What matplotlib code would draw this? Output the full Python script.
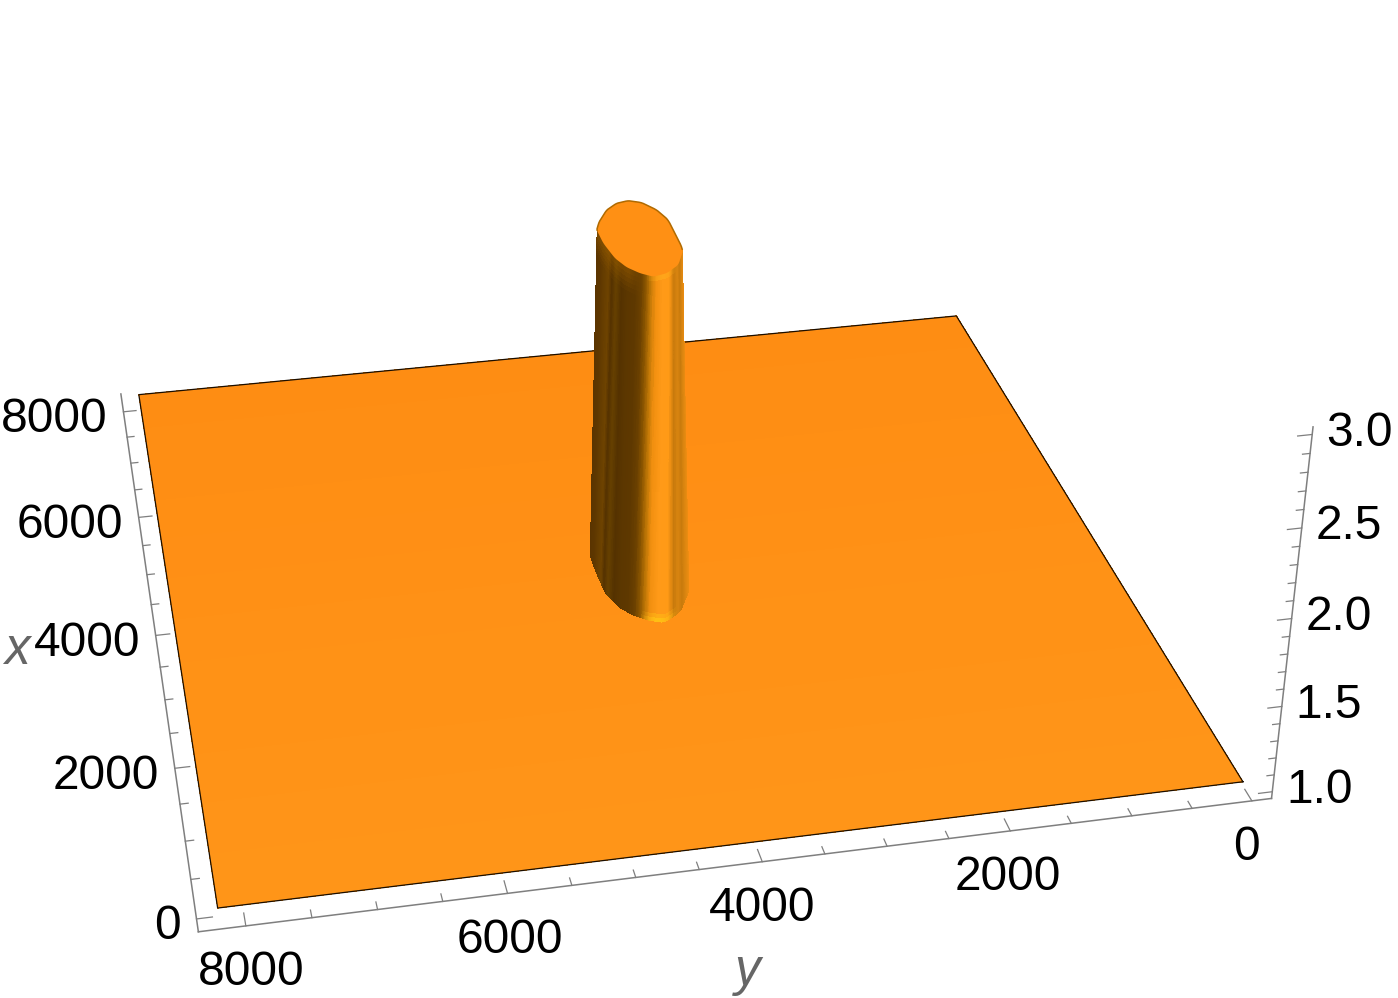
import numpy as np
import matplotlib
matplotlib.use('Agg')
import matplotlib.pyplot as plt
from matplotlib.colors import LinearSegmentedColormap, to_rgba
from mpl_toolkits.mplot3d import proj3d
from mpl_toolkits.mplot3d.art3d import Poly3DCollection

plt.rcParams['font.family'] = ['Liberation Sans', 'DejaVu Sans']

# flat floor of the surface
plane_x = [16, 8192]
plane_y = [16, 8192]
plane_z = 1.0
plateau_z = 3.0

# plateau rim, front part from left to right
top_x = [4308, 4051, 3760, 3580, 3452, 3370, 3408, 3536, 3797]
top_y = [4426, 4419, 4378, 4316, 4230, 4136, 4017, 3892, 3794]
# rest of the rim, going round the back
back_x = [4374, 4582, 4747, 4808, 4778, 4667, 4458]
back_y = [3799, 3855, 3951, 4055, 4162, 4270, 4375]
# foot of the column on the floor
foot_x = [4440, 4150, 3778, 3549, 3400, 3296, 3230, 3366, 3697]
foot_y = [4482, 4483, 4466, 4396, 4303, 4192, 4065, 3895, 3741]

# wall shading along the front of the rim (station number, colour)
wall_pos = [0, 0.75, 1.5, 1.8, 2.15, 2.6, 3.15, 3.65, 4.1, 4.45, 4.8, 5.15, 5.65, 6.15, 6.35, 6.55, 6.85, 7.15, 7.55, 8]
wall_colors = ['#5A3400', '#5E3700', '#6E4300', '#553200', '#664000', '#553200', '#5C3700', '#5E3800', '#6A4000',
               '#8A5500', '#BE7606', '#F29010', '#FF9A18', '#FF9A16', '#E88C12', '#C87A0C', '#D88410', '#C87A0C', '#DC8610', '#F08E12']
floor_colors = ['#FE8D13', '#FF9015', '#FF9518']

x_major = [0, 2000, 4000, 6000, 8000]
y_major = [0, 2000, 4000, 6000, 8000]
z_major = [1.0, 1.5, 2.0, 2.5, 3.0]
xy_minor = [500, 1000, 1500, 2500, 3000, 3500, 4500, 5000, 5500, 6500, 7000, 7500]
z_minor = [1.1, 1.2, 1.3, 1.4, 1.6, 1.7, 1.8, 1.9, 2.1, 2.2, 2.3, 2.4, 2.6, 2.7, 2.8, 2.9]

# box limits
bx0, bx1 = -159, 8360
by0, by1 = -165, 8357
bz0, bz1 = 0.96, 3.04

W, H = 1398, 998
A = 998.0  # axes side in pixels
F = 3378.0  # focal length of the fitted camera, pixels
D = 3.399  # eye distance in box sides
cx, cy = 640.2, 408.3  # where the box centre lands
lz = 0.399
SUB = 20  # samples per rim point when drawing
KERNEL = np.ones(9) / 9


def round_closed(vals):
    # closed rim: resample and round off the corners
    v = np.array(list(vals) + [vals[0]], float)
    t = np.linspace(0, len(vals), len(vals) * SUB + 1)
    u = np.interp(t, np.arange(len(v)), v)[:-1]
    n = len(KERNEL)
    return np.convolve(np.r_[u[-n:], u, u[:n]], KERNEL, mode='same')[n:-n]


def round_open(vals):
    v = np.array(vals, float)
    t = np.linspace(0, len(vals) - 1, (len(vals) - 1) * SUB + 1)
    u = np.interp(t, np.arange(len(v)), v)
    n = len(KERNEL)
    out = np.convolve(np.r_[np.full(n, u[0]), u, np.full(n, u[-1])], KERNEL, mode='same')[n:-n]
    return out


e = F * 0.185 / A
side = 10 * e / D
zoom = side / (1.8294640721620434 * 25 / 24 / np.linalg.norm([1, 1, lz]))

fig = plt.figure(figsize=(W / 100, H / 100), dpi=100)
ax = fig.add_axes([(cx - 0.095 / 0.185 * A) / W, (H - cy - 0.095 / 0.185 * A) / H, A / W, A / H],
                  projection='3d', computed_zorder=False)
ax.set_proj_type('persp', focal_length=e)
ax.view_init(elev=29.222, azim=168.472)
ax.set_xlim(bx0, bx1)
ax.set_ylim(by0, by1)
ax.set_zlim(bz0, bz1)
ax.set_box_aspect((1, 1, lz), zoom=zoom)
ax.set_axis_off()

# floor
px = np.linspace(plane_x[0], plane_x[1], 13)
py = np.array(plane_y, float)
PX, PY = np.meshgrid(px, py, indexing='ij')
floor_cmap = LinearSegmentedColormap.from_list('floor', floor_colors[::-1])
floor_fc = floor_cmap(np.linspace(0, 1, 13))[:, None, :].repeat(2, axis=1)
s = ax.plot_surface(PX, PY, np.full(PX.shape, plane_z), facecolors=floor_fc, rstride=1, cstride=1,
                    shade=False, antialiased=False, linewidth=0, zorder=1)
s.set_clip_on(False)

ex = [plane_x[0], plane_x[1], plane_x[1], plane_x[0], plane_x[0]]
ey = [plane_y[0], plane_y[0], plane_y[1], plane_y[1], plane_y[0]]
ax.plot(ex, ey, [plane_z] * 5, color='#1a0e00', lw=0.9, zorder=2, clip_on=False)

# rounded rims
cap_x = round_closed(top_x + back_x)
cap_y = round_closed(top_y + back_y)
n_front = (len(top_x) - 1) * SUB + 1
tx, ty = cap_x[:n_front], cap_y[:n_front]
fx, fy = round_open(foot_x), round_open(foot_y)
st = np.linspace(0, 8, n_front)

# column wall
rows = np.linspace(0, 1, 81)
WX = fx[None, :] + (tx - fx)[None, :] * rows[:, None]
WY = fy[None, :] + (ty - fy)[None, :] * rows[:, None]
WZ = plane_z + (plateau_z - plane_z) * rows[:, None] * np.ones_like(WX)
wall_cmap = LinearSegmentedColormap.from_list('wall', list(zip(np.array(wall_pos) / 8, wall_colors)))
fc = wall_cmap(st / 8)[None, :, :].repeat(len(rows), axis=0)
lit = np.clip(st - 4.5, 0, 1) * np.clip(6.8 - st, 0, 1)
shadow = np.clip(4.2 - st, 0, 1)
hi_top = np.array(to_rgba('#FFB01C'))
hi_foot = np.array(to_rgba('#FFBE14'))
brown = np.array(to_rgba('#A56400'))
for i, r in enumerate(rows):
    if r > 0.93:
        fc[i] = fc[i] + (brown - fc[i]) * (shadow * 0.5 * (r - 0.93) / 0.07)[:, None]
    if r > 0.975:
        fc[i] = fc[i] + (hi_top - fc[i]) * (lit * (r - 0.975) / 0.025)[:, None]
    if r < 0.025:
        fc[i] = fc[i] + (hi_foot - fc[i]) * (lit * (0.025 - r) / 0.025)[:, None]
w = ax.plot_surface(WX, WY, WZ, facecolors=fc, rstride=1, cstride=1, shade=False,
                    antialiased=False, linewidth=0, zorder=3)
w.set_clip_on(False)

# plateau cap
cap = Poly3DCollection([list(zip(cap_x, cap_y, np.full(cap_x.shape, plateau_z)))], facecolor='#FF9014',
                       edgecolor='none', zorder=4)
cap.set_clip_on(False)
ax.add_collection3d(cap, autolim=False)
back_rx = np.r_[cap_x[n_front - 1:], cap_x[:1]]
back_ry = np.r_[cap_y[n_front - 1:], cap_y[:1]]
ax.plot(back_rx, back_ry, np.full(back_rx.shape, plateau_z), color='#B06A00', lw=1.1, zorder=5, clip_on=False)

# frame and ticks
gray = '#7f7f7f'
ax.plot([bx0, bx1], [by1, by1], [bz0, bz0], color=gray, lw=1.1, zorder=2, clip_on=False)
ax.plot([bx0, bx0], [by0, by1], [bz0, bz0], color=gray, lw=1.1, zorder=2, clip_on=False)
ax.plot([bx0, bx0], [by0, by0], [bz0, bz1], color=gray, lw=1.1, zorder=2, clip_on=False)
for v in x_major + xy_minor:
    ln = 120 if v in x_major else 65
    ax.plot([v, v], [by1, by1 - ln], [bz0, bz0], color=gray, lw=0.9, zorder=2, clip_on=False)
for v in y_major + xy_minor:
    ln = 160 if v in y_major else 95
    ax.plot([bx0, bx0 + ln], [v, v], [bz0, bz0], color=gray, lw=0.9, zorder=2, clip_on=False)
for v in z_major + z_minor:
    ln = 115 if v in z_major else 60
    ax.plot([bx0, bx0], [by0, by0 + ln], [v, v], color=gray, lw=0.9, zorder=2, clip_on=False)

# tick labels, placed from the projected tick positions
M = ax.get_proj()
def label(x, y, z, txt, dx, dy, ha):
    px2, py2, _ = proj3d.proj_transform(x, y, z, M)
    ax.annotate(txt, (px2, py2), xytext=(dx * 0.72, -dy * 0.72), textcoords='offset points', ha=ha, va='center',
                fontsize=34.5, color='black', annotation_clip=False)

for v in x_major:
    label(v, by1, bz0, str(v), -15.5, 8, 'right')
for v in y_major:
    label(bx0, v, bz0, str(v), -5 + 10 * v / 8000, 47, 'center')
for v in z_major:
    label(bx0, by0, v, '%.1f' % v, 14, -1, 'left')

fig.text(17 / W, 1 - 650 / H, 'x', style='italic', color='#666666', fontsize=37, ha='center', va='center')
fig.text(748 / W, 1 - 972 / H, 'y', style='italic', color='#666666', fontsize=37, ha='center', va='center')

fig.savefig('out.png', dpi=100)
